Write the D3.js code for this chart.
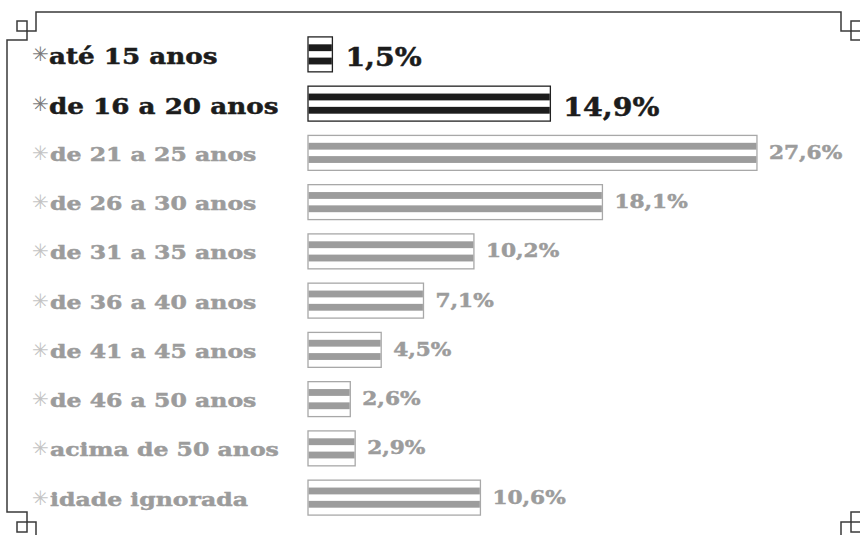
<!DOCTYPE html>
<html>
<head>
<meta charset="utf-8">
<script src="https://cdn.jsdelivr.net/npm/d3@7"></script>
<style>
  body { margin: 0; background: #fff; }
  svg { display: block; }
  .cat, .val { font-family: "DejaVu Serif", serif; font-weight: bold; }
  .mark { font-family: "DejaVu Sans", sans-serif; }
</style>
</head>
<body>
<svg id="chart"></svg>
<script>
// Age groups and their share (%)
const categories = [
  'até 15 anos', 'de 16 a 20 anos', 'de 21 a 25 anos', 'de 26 a 30 anos',
  'de 31 a 35 anos', 'de 36 a 40 anos', 'de 41 a 45 anos', 'de 46 a 50 anos',
  'acima de 50 anos', 'idade ignorada'
];
const values = [1.5, 14.9, 27.6, 18.1, 10.2, 7.1, 4.5, 2.6, 2.9, 10.6];
const valueLabels = ['1,5%', '14,9%', '27,6%', '18,1%', '10,2%', '7,1%', '4,5%', '2,6%', '2,9%', '10,6%'];
// rows drawn in the dark style
const highlighted = ['até 15 anos', 'de 16 a 20 anos'];

const data = categories.map((c, i) => ({cat: c, value: values[i], label: valueLabels[i]}));

const width = 860, height = 535;
const svg = d3.select('#chart').attr('width', width).attr('height', height);

// Decorative frame with notched corners
const L0 = 7, L1 = 17, L2 = 27, L3 = 36;
const R3 = 841, R2 = 851, R1 = 861, R0 = 870;
const T0 = 12, T1 = 21, T2 = 31, T3 = 40;
const B3 = 512, B2 = 522, B1 = 532, B0 = 541;
const frame = d3.path();
frame.moveTo(L3, T0); frame.lineTo(R3, T0); frame.lineTo(R3, T2); frame.lineTo(R2, T2);
frame.lineTo(R2, T3); frame.lineTo(R0, T3); frame.lineTo(R0, B3); frame.lineTo(R2, B3);
frame.lineTo(R2, B2); frame.lineTo(R3, B2); frame.lineTo(R3, B0); frame.lineTo(L3, B0);
frame.lineTo(L3, B2); frame.lineTo(L2, B2); frame.lineTo(L2, B3); frame.lineTo(L0, B3);
frame.lineTo(L0, T3); frame.lineTo(L2, T3); frame.lineTo(L2, T2); frame.lineTo(L3, T2);
frame.closePath();
svg.append('path').attr('d', frame.toString())
    .attr('fill', 'none').attr('stroke', '#3a3a3a').attr('stroke-width', 1.5);
[[L1, T1], [R2, T1], [L1, B2], [R2, B2]].forEach(([x, y]) => {
  svg.append('rect').attr('x', x).attr('y', y).attr('width', 10).attr('height', 10)
      .attr('fill', 'none').attr('stroke', '#3a3a3a').attr('stroke-width', 1.5);
});

// Scales
const x = d3.scaleLinear().domain([0, 30]).range([308, 796]);
const y = d3.scaleBand().domain(categories).range([30, 522])
    .paddingInner(0.27).paddingOuter(0.13);

const isDark = d => highlighted.includes(d.cat);
const ink = d => isDark(d) ? '#1c1c1c' : '#9c9c9c';

const rows = svg.selectAll('.row')
  .data(data)
  .join('g')
    .attr('class', 'row')
    .attr('transform', d => `translate(0,${y(d.cat)})`);

const bw = y.bandwidth();

// Bars: outlined box with two horizontal stripes
rows.append('rect')
    .attr('x', x(0))
    .attr('y', 0.5)
    .attr('width', d => x(d.value) - x(0))
    .attr('height', bw - 1)
    .attr('fill', '#fff')
    .attr('stroke', d => isDark(d) ? '#222' : '#a8a8a8')
    .attr('stroke-width', 1.3);

[0.22, 0.59].forEach(f => {
  rows.append('rect')
      .attr('x', x(0) + 0.6)
      .attr('y', bw * f)
      .attr('width', d => x(d.value) - x(0) - 1.2)
      .attr('height', bw * 0.19)
      .attr('fill', ink);
});

// Value labels (wide slab look: stretched horizontally)
rows.append('text')
    .attr('class', 'val')
    .attr('transform', d => `translate(${x(d.value) + (isDark(d) ? 13 : 12)},${bw / 2 + (isDark(d) ? 12 : 6)}) scale(${isDark(d) ? 1.09 : 1.14},1)`)
    .attr('font-size', d => isDark(d) ? 26 : 19)
    .attr('fill', ink)
    .attr('stroke', ink)
    .attr('stroke-width', 0.5)
    .text(d => d.label);

// Asterisk marker
rows.append('text')
    .attr('class', 'mark')
    .attr('x', 32)
    .attr('y', d => bw / 2 + 7)
    .attr('font-size', 20)
    .attr('fill', d => isDark(d) ? '#7a7a7a' : '#c4c4c4')
    .text('✳');

// Category labels
rows.append('text')
    .attr('class', 'cat')
    .attr('transform', d => `translate(${isDark(d) ? 49 : 50},${bw / 2 + (isDark(d) ? 10 : 8)}) scale(${isDark(d) ? 1.19 : 1.24},1)`)
    .attr('font-size', d => isDark(d) ? 22 : 19)
    .attr('fill', ink)
    .attr('stroke', ink)
    .attr('stroke-width', 0.5)
    .text(d => d.cat);
</script>
</body>
</html>
